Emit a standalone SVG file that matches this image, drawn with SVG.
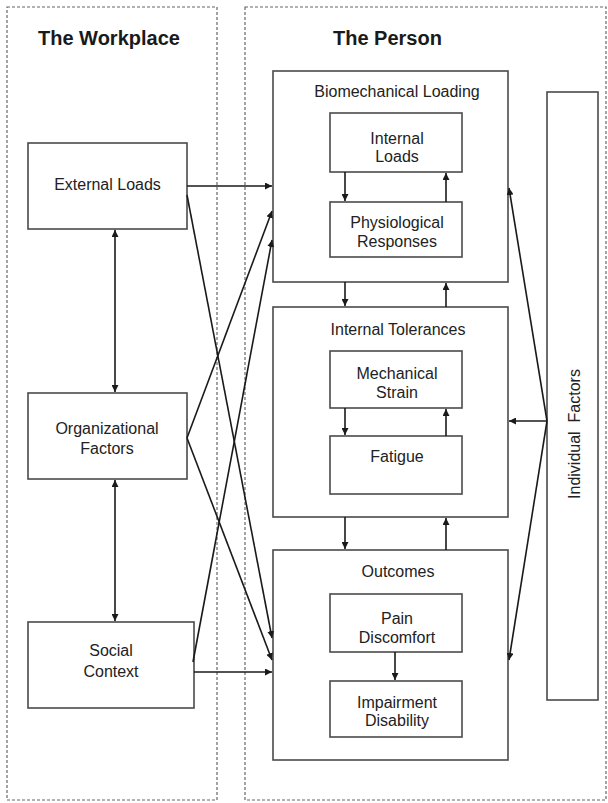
<svg xmlns="http://www.w3.org/2000/svg" width="608" height="803" viewBox="0 0 608 803">
<style>
.panel{fill:none;stroke:#666;stroke-width:1.2;stroke-dasharray:3 2}
.box{fill:#fff;stroke:#4a4a4a;stroke-width:1.6}
.t{font-family:"Liberation Sans",Arial,sans-serif;font-size:16px;fill:#222;text-anchor:middle}
.h{font-family:"Liberation Sans",Arial,sans-serif;font-size:20px;font-weight:bold;fill:#1a1a1a}
.c{fill:none;stroke:#1a1a1a;stroke-width:1.6}
</style>
<defs>
<marker id="ah" markerUnits="userSpaceOnUse" markerWidth="8" markerHeight="7" refX="7" refY="3.5" orient="auto">
<path d="M0,0 L7,3.5 L0,7 Z" fill="#1a1a1a"/>
</marker>
<marker id="as" markerUnits="userSpaceOnUse" markerWidth="8" markerHeight="7" refX="1" refY="3.5" orient="auto">
<path d="M8,0 L1,3.5 L8,7 Z" fill="#1a1a1a"/>
</marker>
</defs>
<rect width="608" height="803" fill="#fff"/>
<g id="workplace">
<rect class="panel" x="7" y="7" width="210" height="793"/>
<text class="h" x="38" y="45">The Workplace</text>
</g>
<g id="person">
<rect class="panel" x="245" y="7" width="361" height="793"/>
<text class="h" x="333" y="45">The Person</text>
</g>
<g id="external-loads">
<rect class="box" x="28" y="143" width="159" height="86"/>
<text class="t" x="107.5" y="190">External Loads</text>
</g>
<g id="organizational-factors">
<rect class="box" x="28" y="393" width="159" height="86"/>
<text class="t" x="107" y="434">Organizational</text>
<text class="t" x="107" y="454">Factors</text>
</g>
<g id="social-context">
<rect class="box" x="28" y="622" width="166" height="86"/>
<text class="t" x="111" y="656">Social</text>
<text class="t" x="111" y="677">Context</text>
</g>
<g id="biomechanical-loading">
<rect class="box" x="273" y="71" width="235" height="211"/>
<text class="t" x="397" y="97">Biomechanical Loading</text>
</g>
<g id="internal-loads">
<rect class="box" x="330" y="113" width="132" height="59"/>
<text class="t" x="397" y="144">Internal</text>
<text class="t" x="397" y="162">Loads</text>
</g>
<g id="physiological-responses">
<rect class="box" x="330" y="202" width="132" height="55"/>
<text class="t" x="397" y="228">Physiological</text>
<text class="t" x="397" y="247">Responses</text>
</g>
<g id="internal-tolerances">
<rect class="box" x="273" y="307" width="235" height="210"/>
<text class="t" x="398" y="335">Internal Tolerances</text>
</g>
<g id="mechanical-strain">
<rect class="box" x="330" y="351" width="132" height="57"/>
<text class="t" x="397" y="379">Mechanical</text>
<text class="t" x="397" y="398">Strain</text>
</g>
<g id="fatigue">
<rect class="box" x="330" y="436" width="132" height="58"/>
<text class="t" x="397" y="462">Fatigue</text>
</g>
<g id="outcomes">
<rect class="box" x="273" y="550" width="235" height="210"/>
<text class="t" x="398" y="577">Outcomes</text>
</g>
<g id="pain-discomfort">
<rect class="box" x="330" y="594" width="132" height="58"/>
<text class="t" x="397" y="624">Pain</text>
<text class="t" x="397" y="643">Discomfort</text>
</g>
<g id="impairment-disability">
<rect class="box" x="330" y="681" width="132" height="56"/>
<text class="t" x="397" y="708">Impairment</text>
<text class="t" x="397" y="726">Disability</text>
</g>
<g id="individual-factors">
<rect class="box" x="547" y="92" width="51" height="608"/>
<text class="t" transform="translate(580,434) rotate(-90)" style="white-space:pre" xml:space="preserve">Individual  Factors</text>
</g>
<g id="connectors">
<path class="c" d="M187,186 L272,186" marker-end="url(#ah)"/>
<path class="c" d="M187,195 L272,638" marker-end="url(#ah)"/>
<path class="c" d="M187,438 L272,211" marker-end="url(#ah)"/>
<path class="c" d="M187,438 L272,660" marker-end="url(#ah)"/>
<path class="c" d="M193,662 L272,240" marker-end="url(#ah)"/>
<path class="c" d="M194,672 L272,672" marker-end="url(#ah)"/>
<path class="c" d="M115,230 L115,392" marker-start="url(#as)" marker-end="url(#ah)"/>
<path class="c" d="M115,480 L115,621" marker-start="url(#as)" marker-end="url(#ah)"/>
<path class="c" d="M345,172 L345,201" marker-end="url(#ah)"/>
<path class="c" d="M446,202 L446,173" marker-end="url(#ah)"/>
<path class="c" d="M345,282 L345,306" marker-end="url(#ah)"/>
<path class="c" d="M446,307 L446,283" marker-end="url(#ah)"/>
<path class="c" d="M345,408 L345,435" marker-end="url(#ah)"/>
<path class="c" d="M446,436 L446,409" marker-end="url(#ah)"/>
<path class="c" d="M345,517 L345,549" marker-end="url(#ah)"/>
<path class="c" d="M446,550 L446,518" marker-end="url(#ah)"/>
<path class="c" d="M395,652 L395,680" marker-end="url(#ah)"/>
<path class="c" d="M547,421 L509,421" marker-end="url(#ah)"/>
<path class="c" d="M547,421 L509,188" marker-end="url(#ah)"/>
<path class="c" d="M547,421 L509,660" marker-end="url(#ah)"/>
</g>
</svg>
